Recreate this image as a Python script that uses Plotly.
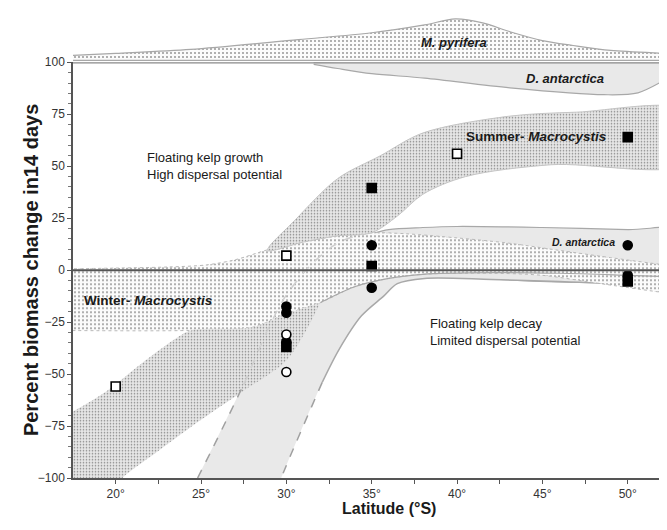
import plotly.graph_objects as go

# ---------------- data ----------------
# M. pyrifera distribution band (top strip, relative extent)
pyrifera_lat = [17.5, 20, 24.4, 30.7, 35, 38.1, 39.9, 41.5, 43.1, 45, 46.8, 49, 52.3, 53.5]
pyrifera_top = [7, 9, 13, 23, 30, 38, 44, 40, 31, 22, 17, 12, 9, 8]
pyrifera_base = 2

# D. antarctica distribution band (hanging from 100 %)
dant_dist_lat = [31.6, 33, 35, 38.1, 43.1, 48.6, 50.6, 52.3, 53.5]
dant_dist_low = [99, 97, 94.5, 92.4, 87.7, 84.4, 85.3, 92, 97]

# Summer D. antarctica band (light grey)
dsum_lat = [35, 36, 38, 40, 45, 50, 53.5]
dsum_top = [17.5, 19.5, 20.5, 21, 20.5, 19.5, 19]

# central sparse-dotted band
sparse_top_lat = [16.5, 20, 23, 25.3, 27, 29, 31, 33, 35, 37, 40, 43, 46, 49, 52.3, 53.5]
sparse_top_val = [0.5, 1, 1.5, 2.5, 5, 10, 13.5, 16.5, 18, 17.5, 15.5, 13, 9.5, 6, 2.4, 1.5]
sparse_bot_lat = [16.5, 24.4, 28, 30, 32, 34, 36, 38, 42, 45, 48, 52.3, 53.5]
sparse_bot_val = [-29, -29, -27.5, -21, -15.6, -8, -4, -2, -1.5, -2.5, -6, -11, -12]

# Summer-Macrocystis band
msum_up_lat = [28.9, 30.5, 33, 35.5, 38, 43, 47, 53.5]
msum_up_val = [9.5, 24, 44, 55, 66, 74, 76, 76.5]
msum_lo_lat = [53.5, 45.5, 40.5, 38, 36.5, 35, 33, 31, 28.9]
msum_lo_val = [51.6, 50.7, 45, 36.5, 26, 18, 16.5, 13.5, 9.5]

# Winter-Macrocystis band
mwin_up_lat = [16.5, 17.5, 19.5, 21.5, 23.5, 24.4, 28, 30, 32]
mwin_up_val = [-72, -68, -58, -45, -33, -29, -27.5, -21, -15.6]
mwin_lo_lat = [32, 30.1, 27.5, 25, 22.5, 20.4, 20.0, 16.5]
mwin_lo_val = [-15.6, -42.6, -58, -72, -87, -100, -105, -105]

# Winter D. antarctica band (light grey)
dwin_left_lat = [24.5, 24.8, 27.5, 28.5, 31, 32]
dwin_left_val = [-105, -100, -55, -40, -20, -15.6]
dwin_top_lat = [32, 34, 36, 38, 42, 46, 50, 53.5]
dwin_top_val = [-15.6, -8, -4, -2, -1.2, -1.5, -2.5, -3.5]
dwin_low_lat = [53.5, 50, 46, 42, 38.1, 36.5, 35.7, 34.4, 33.1, 32.1]
dwin_low_val = [-9, -7, -5.5, -4.5, -4, -6.5, -12.5, -22, -38, -54]
dwin_dash_r_lat = [32.1, 29.7, 29.5]
dwin_dash_r_val = [-54, -100, -105]
dwin_dash_l_lat = [24.8, 25.6, 26.5, 27.5]
dwin_dash_l_val = [-100, -87, -72, -55]
faint_dash_lat = [27.5, 28.3, 29, 30, 31.5, 33, 34.5]
faint_dash_val = [-55, -40, -27, -12, 3, 13, 17.5]

# observations
open_sq_lat = [20, 30, 40]
open_sq_val = [-56, 7, 56]
fill_sq_lat = [35, 50, 35, 50, 30]
fill_sq_val = [39.5, 64, 2, -5.5, -37]
fill_ci_lat = [35, 50, 35, 50, 30, 30, 30]
fill_ci_val = [12, 12, -8.5, -2.5, -17.5, -20.5, -34.5]
open_ci_lat = [30, 30]
open_ci_val = [-31, -49]

x_ticks = [20, 22.5, 25, 27.5, 30, 32.5, 35, 37.5, 40, 42.5, 45, 47.5, 50]
x_ticktext = ["20°", "", "25°", "", "30°", "", "35°", "", "40°", "", "45°", "", "50°"]
y_ticks = [-100, -75, -50, -25, 0, 25, 50, 75, 100]

FONT = "Liberation Sans, Arial, sans-serif"
LIGHT = "#e9e9e9"
EDGE = "#a8a8a8"
sparse_pat = dict(shape=".", size=4, solidity=0.16, fgcolor="#8c8c8c", bgcolor="#fbfbfb", fillmode="replace")
dense_pat = dict(shape=".", size=3, solidity=0.22, fgcolor="#858585", bgcolor="#e6e6e6", fillmode="replace")
SM = 0.9

fig = go.Figure()

# top strip: M. pyrifera
fig.add_trace(go.Scatter(
    x=pyrifera_lat + pyrifera_lat[::-1],
    y=pyrifera_top + [pyrifera_base] * len(pyrifera_lat),
    yaxis="y2", mode="lines", fill="toself", fillcolor="#fbfbfb",
    fillpattern=sparse_pat, line=dict(color=EDGE, width=1.2, shape="spline", smoothing=SM),
    hoverinfo="skip", showlegend=False))

# D. antarctica distribution (below 100)
fig.add_trace(go.Scatter(
    x=dant_dist_lat + [dant_dist_lat[-1], dant_dist_lat[0]],
    y=dant_dist_low + [100, 100],
    mode="lines", fill="toself", fillcolor=LIGHT,
    line=dict(color=EDGE, width=1.2, shape="spline", smoothing=SM),
    hoverinfo="skip", showlegend=False))

# summer D. antarctica (light grey)
fig.add_trace(go.Scatter(
    x=dsum_lat + [dsum_lat[-1], dsum_lat[0]],
    y=dsum_top + [0, 0],
    mode="lines", fill="toself", fillcolor=LIGHT,
    line=dict(color=EDGE, width=1.2, shape="spline", smoothing=SM),
    hoverinfo="skip", showlegend=False))

# winter D. antarctica (light grey)
fig.add_trace(go.Scatter(
    x=dwin_left_lat + dwin_top_lat[1:] + dwin_low_lat + dwin_dash_r_lat[1:],
    y=dwin_left_val + dwin_top_val[1:] + dwin_low_val + dwin_dash_r_val[1:],
    mode="lines", fill="toself", fillcolor=LIGHT,
    line=dict(width=0, shape="spline", smoothing=SM),
    hoverinfo="skip", showlegend=False))
fig.add_trace(go.Scatter(
    x=dwin_low_lat, y=dwin_low_val, mode="lines",
    line=dict(color=EDGE, width=1.5, shape="spline", smoothing=SM),
    hoverinfo="skip", showlegend=False))

# central sparse band
fig.add_trace(go.Scatter(
    x=sparse_top_lat + sparse_bot_lat[::-1],
    y=sparse_top_val + sparse_bot_val[::-1],
    mode="lines", fill="toself", fillcolor="#fbfbfb", fillpattern=sparse_pat,
    line=dict(color="#b8b8b8", width=1, dash="dot", shape="spline", smoothing=SM),
    hoverinfo="skip", showlegend=False))
fig.add_trace(go.Scatter(
    x=dwin_top_lat, y=dwin_top_val, mode="lines",
    line=dict(color=EDGE, width=1.2, shape="spline", smoothing=SM),
    hoverinfo="skip", showlegend=False))

# Summer-Macrocystis
fig.add_trace(go.Scatter(
    x=msum_up_lat + msum_lo_lat, y=msum_up_val + msum_lo_val,
    mode="lines", fill="toself", fillcolor="#e6e6e6", fillpattern=dense_pat,
    line=dict(color="#c4c4c4", width=1, shape="spline", smoothing=SM),
    hoverinfo="skip", showlegend=False))

# Winter-Macrocystis
fig.add_trace(go.Scatter(
    x=mwin_up_lat + mwin_lo_lat, y=mwin_up_val + mwin_lo_val,
    mode="lines", fill="toself", fillcolor="#e6e6e6", fillpattern=dense_pat,
    line=dict(width=0, shape="spline", smoothing=SM),
    hoverinfo="skip", showlegend=False))

# dashed edges
for xs, ys, col in [(dwin_dash_r_lat, dwin_dash_r_val, "#a0a0a0"),
                    (dwin_dash_l_lat, dwin_dash_l_val, "#a0a0a0"),
                    (faint_dash_lat, faint_dash_val, "#cfcfcf")]:
    fig.add_trace(go.Scatter(x=xs, y=ys, mode="lines",
                             line=dict(color=col, width=1.5, dash="dash", shape="spline", smoothing=SM),
                             hoverinfo="skip", showlegend=False))

# observations
def pts(xs, ys, symbol, fill):
    fig.add_trace(go.Scatter(
        x=xs, y=ys, mode="markers", cliponaxis=False,
        marker=dict(symbol=symbol, size=9, color=fill, line=dict(color="#000", width=1.6)),
        hoverinfo="skip", showlegend=False))

pts(fill_ci_lat, fill_ci_val, "circle", "#000")
pts(fill_sq_lat, fill_sq_val, "square", "#000")
pts(open_ci_lat, open_ci_val, "circle", "#fff")
pts(open_sq_lat, open_sq_val, "square", "#fff")

TXT = "#1a1a1a"
ann = [
    dict(x=39.8, y=20, xref="x", yref="y2", text="<b><i>M. pyrifera</i></b>", font=dict(size=13)),
    dict(x=46.3, y=92, text="<b><i>D. antarctica</i></b>", font=dict(size=13)),
    dict(x=48.9, y=64.5, text="<b>Summer- <i>Macrocystis</i></b>", xanchor="right", font=dict(size=13.5)),
    dict(x=21.7, y=50, text="Floating kelp growth<br>High dispersal potential", xanchor="left",
         align="left", font=dict(size=13)),
    dict(x=47.4, y=13.7, text="<b><i>D. antarctica</i></b>", font=dict(size=10.5)),
    dict(x=18.0, y=-14.7, text="<b>Winter- <i>Macrocystis</i></b>", xanchor="left", font=dict(size=13.5)),
    dict(x=38.3, y=-30, text="Floating kelp decay<br>Limited dispersal potential", xanchor="left",
         align="left", font=dict(size=13)),
    dict(x=0.532, y=-0.0894, xref="paper", yref="paper", text="<b>Latitude (°S)</b>",
         font=dict(size=16)),
    dict(x=0, y=0.449, xref="paper", yref="paper", xshift=-55, textangle=-90,
         text="<b>Percent biomass change in14 days</b>", font=dict(size=20)),
]
for a in ann:
    a.setdefault("xref", "x")
    a.setdefault("yref", "y")
    a["showarrow"] = False
    a["font"] = dict(family=FONT, color=TXT, **a["font"])
fig.update_layout(annotations=ann)

# the page body adds an 8 px margin, so the figure is 8 px smaller than the window
fig.update_layout(
    width=659, height=522,
    margin=dict(l=65, r=0, t=0, b=52),
    paper_bgcolor="white", plot_bgcolor="white",
    font=dict(family=FONT, size=12, color="#222"),
    xaxis=dict(range=[17.5, 52.3], tickvals=x_ticks, ticktext=x_ticktext,
               showgrid=False, zeroline=False, showline=True, linecolor="#555", linewidth=1.5,
               ticks="outside", ticklen=4, tickcolor="#555", tickfont=dict(size=12, color="#333")),
    yaxis=dict(range=[-100, 100], domain=[0, 0.8979], tickvals=y_ticks,
               showgrid=False, zeroline=False, showline=True, linecolor="#555", linewidth=1.5,
               ticks="outside", ticklen=4, tickcolor="#555", tickfont=dict(size=12, color="#333"),
               minor=dict(dtick=5, tick0=0, ticks="outside", ticklen=3, tickcolor="#777")),
    yaxis2=dict(range=[0, 48], domain=[0.8979, 1], anchor="x", visible=False),
    shapes=[
        dict(type="line", xref="paper", yref="y", x0=0, x1=1, y0=0, y1=0,
             line=dict(color="#555", width=2), layer="above"),
        dict(type="line", xref="paper", yref="y", x0=0, x1=1, y0=100, y1=100,
             line=dict(color="#8a8a8a", width=2.5), layer="above"),
    ],
)

fig.write_html("out.html")
